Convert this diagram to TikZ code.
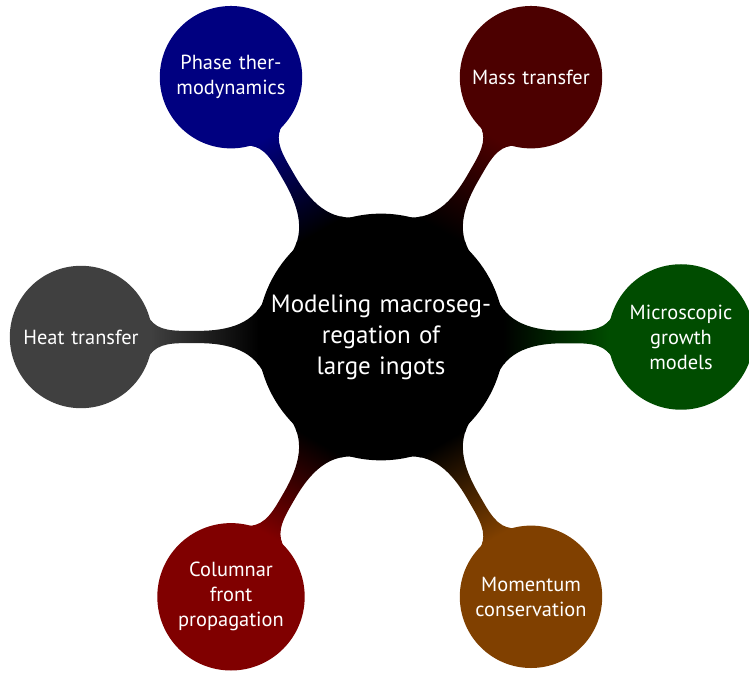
\documentclass[tikz,border=0pt]{standalone}
\usepackage{fontspec}
\setmainfont{PT Sans}
\usetikzlibrary{mindmap}

\colorlet{heatcol}{black!75}
\colorlet{phasecol}{blue!50!black}
\colorlet{masscol}{red!30!black}
\colorlet{microcol}{green!30!black}
\colorlet{momentcol}{orange!50!black}
\colorlet{columncol}{red!50!black}

\begin{document}
\begin{tikzpicture}[x=0.5pt,y=0.5pt,mindmap,text=white]
    \tikzstyle{topic}=[concept, concept color=black, minimum size=122pt, text width=115pt, inner sep=0pt, align=center, font=\fontsize{12.5}{15.5}\selectfont]
    \tikzstyle{subtopic}=[concept, minimum size=70pt, text width=64pt, inner sep=0pt, align=center, font=\fontsize{10.2}{12.5}\selectfont]
    \useasboundingbox (-381,-336) rectangle (368,337);
    \node[topic] (root) at (0,0) {Modeling macroseg-\\regation of\\large ingots};
    \node[subtopic, concept color=heatcol] (heat) at (180:300) {Heat transfer};
    \node[subtopic, concept color=phasecol] (phase) at (120:300) {Phase ther-\\modynamics};
    \node[subtopic, concept color=masscol] (mass) at (60:300) {Mass transfer};
    \node[subtopic, concept color=microcol] (micro) at (0:300) {Microscopic\\growth\\models};
    \node[subtopic, concept color=momentcol] (moment) at (-60:300) {Momentum\\conservation};
    \node[subtopic, concept color=columncol] (column) at (-120:300) {Columnar\\front\\propagation};
    \path (root) to[circle connection bar switch color=from (black) to (heatcol)] (heat);
    \path (root) to[circle connection bar switch color=from (black) to (phasecol)] (phase);
    \path (root) to[circle connection bar switch color=from (black) to (masscol)] (mass);
    \path (root) to[circle connection bar switch color=from (black) to (microcol)] (micro);
    \path (root) to[circle connection bar switch color=from (black) to (momentcol)] (moment);
    \path (root) to[circle connection bar switch color=from (black) to (columncol)] (column);
\end{tikzpicture}
\end{document}
